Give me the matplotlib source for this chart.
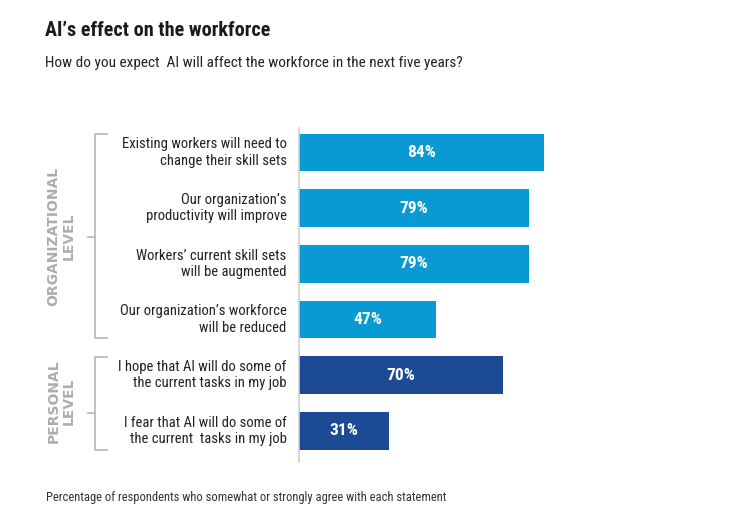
import matplotlib.pyplot as plt

plt.rcParams['font.family'] = ['Roboto Condensed', 'Liberation Sans Narrow', 'Roboto', 'DejaVu Sans']

labels = [
    "Existing workers will need to\nchange their skill sets",
    "Our organization\u2019s\nproductivity will improve",
    "Workers\u2019 current skill sets\nwill be augmented",
    "Our organization\u2019s workforce\nwill be reduced",
    "I hope that AI will do some of\nthe current tasks in my job",
    "I fear that AI will do some of\nthe current  tasks in my job",
]
values = [84, 79, 79, 47, 70, 31]
groups = ["org", "org", "org", "org", "pers", "pers"]

light_blue = "#0A9AD3"
dark_blue = "#1D4A94"
gray = "#b5b5b5"

fig = plt.figure(figsize=(7.36, 5.26), dpi=100)
W, H = 736, 526

# axes placed so that 0..100 spans from x=299px
ax = fig.add_axes([299 / W, (H - 462) / H, 291.7 / W, 334 / H])
ypos = list(range(len(values)))
colors = [light_blue if g == "org" else dark_blue for g in groups]
ax.barh(ypos, values, height=0.68, color=colors)
ax.set_xlim(0, 100)
ax.set_ylim(5.56, -0.44)

for y, v in zip(ypos, values):
    ax.text(v / 2, y, f"{v}%", ha="center", va="center", color="white",
            fontsize=12.5, fontweight="bold")

ax.set_xticks([])
ax.set_yticks([])
for s in ["top", "right", "bottom"]:
    ax.spines[s].set_visible(False)
ax.spines["left"].set_color("#d0d0d0")
ax.spines["left"].set_linewidth(1.2)

# category labels
for y, lab in zip(ypos, labels):
    ax.annotate(lab, xy=(0, y), xycoords="data", xytext=(-9, 0),
                textcoords="offset points", ha="right", va="center",
                fontsize=10.5, color="#222222", linespacing=1.2)


def px(x, y):
    return x / W, (H - y) / H


# group brackets
def bracket(top, bottom, mid):
    xs = [107, 95, 95, 107]
    ys = [top, top, bottom, bottom]
    fig.add_artist(plt.Line2D([px(x, 0)[0] for x in xs], [px(0, y)[1] for y in ys],
                              color=gray, lw=1.2))
    fig.add_artist(plt.Line2D([px(88, 0)[0], px(95, 0)[0]], [px(0, mid)[1]] * 2,
                              color=gray, lw=1.2))


bracket(134, 338, 237)
bracket(357, 450, 413)

fig.text(*px(61, 236), "ORGANIZATIONAL\nLEVEL", rotation=90, ha="center", va="center",
         fontsize=10, color="#adadad", fontweight="bold", linespacing=1.05,
         family=["DejaVu Sans"])
fig.text(*px(61, 401), "PERSONAL\nLEVEL", rotation=90, ha="center", va="center",
         fontsize=10, color="#adadad", fontweight="bold", linespacing=1.05,
         family=["DejaVu Sans"])

# titles and note
fig.text(*px(45, 31), "AI\u2019s effect on the workforce", ha="left", va="center",
         fontsize=14.5, fontweight="bold", color="#1a1a1a")
fig.text(*px(45, 63), "How do you expect  AI will affect the workforce in the next five years?",
         ha="left", va="center", fontsize=11, color="#222222")
fig.text(*px(46, 498), "Percentage of respondents who somewhat or strongly agree with each statement",
         ha="left", va="center", fontsize=9, color="#333333")

fig.savefig("out.png", dpi=100)
